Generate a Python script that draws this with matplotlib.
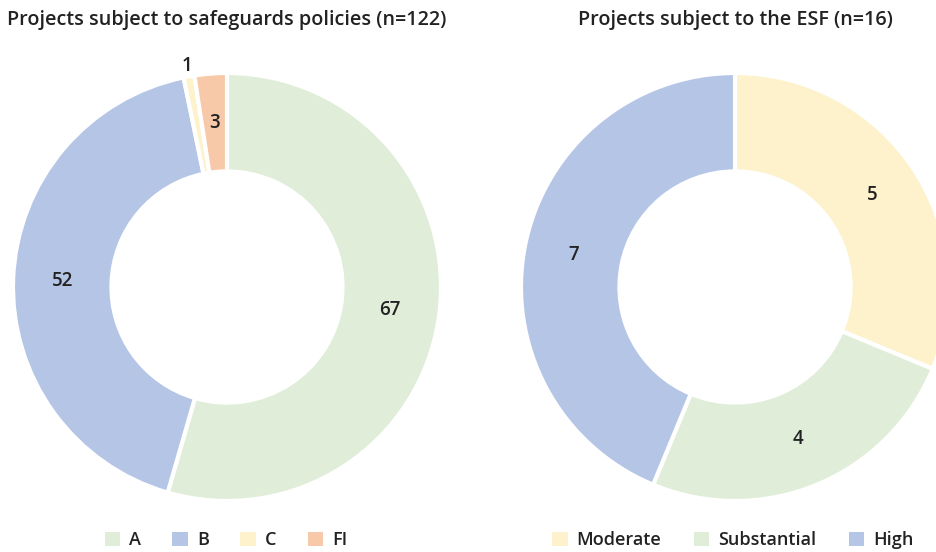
import matplotlib.pyplot as plt
import matplotlib.patches as mpatches
import numpy as np

plt.rcParams['font.family'] = ['Open Sans', 'DejaVu Sans']

# 左图：安保政策项目
left_labels = ['A', 'B', 'C', 'FI']
left_values = [67, 52, 1, 3]
left_colors = ['#e0edd8', '#b4c5e6', '#fdf2cc', '#f8c9a9']
left_title = 'Projects subject to safeguards policies (n=122)'

# 右图：ESF项目
right_labels = ['Moderate', 'Substantial', 'High']
right_values = [5, 4, 7]
right_colors = ['#fdf2cc', '#e0edd8', '#b4c5e6']
right_title = 'Projects subject to the ESF (n=16)'

W, H = 937, 552
fig = plt.figure(figsize=(W / 100, H / 100), dpi=100)

RING = 0.46
TXT = '#222222'


def donut(cx, values, colors, title, outside=()):
    ax = fig.add_axes([(cx - 214) / W, 51 / H, 428 / W, 428 / H])
    ax.pie(values, colors=colors, startangle=90, counterclock=False,
           radius=1, wedgeprops=dict(width=RING, edgecolor='white', linewidth=3))
    total = float(sum(values))
    start = 90.0
    for i, v in enumerate(values):
        mid = start - v / total * 180.0
        start -= v / total * 360.0
        r = 1.05 if i in outside else 1 - RING / 2
        ax.text(r * np.cos(np.radians(mid)), r * np.sin(np.radians(mid)), str(v),
                ha='center', va='center', fontsize=13.5, fontweight='semibold', color=TXT)
    ax.set_xlim(-1, 1)
    ax.set_ylim(-1, 1)
    ax.set_aspect('equal')
    ax.axis('off')
    fig.text(cx / W, 1 - 20 / H, title, ha='center', va='center',
             fontsize=14.2, fontweight='semibold', color=TXT)
    return ax


donut(227, left_values, left_colors, left_title, outside=(2,))
donut(735, right_values, right_colors, right_title)


def legend(cx, labels, colors, spacing):
    handles = [mpatches.Patch(facecolor=c, edgecolor='none', label=l) for l, c in zip(labels, colors)]
    fig.legend(handles=handles, loc='center', bbox_to_anchor=(cx / W, 12 / H), ncol=len(labels),
               frameon=False, handlelength=0.85, handleheight=0.85, handletextpad=0.5,
               columnspacing=spacing, prop={'size': 13, 'weight': 'semibold'},
               labelcolor=TXT, borderaxespad=0)


legend(226, left_labels, left_colors, 1.75)
legend(733, right_labels, right_colors, 1.8)

fig.savefig('out.png', dpi=100)
